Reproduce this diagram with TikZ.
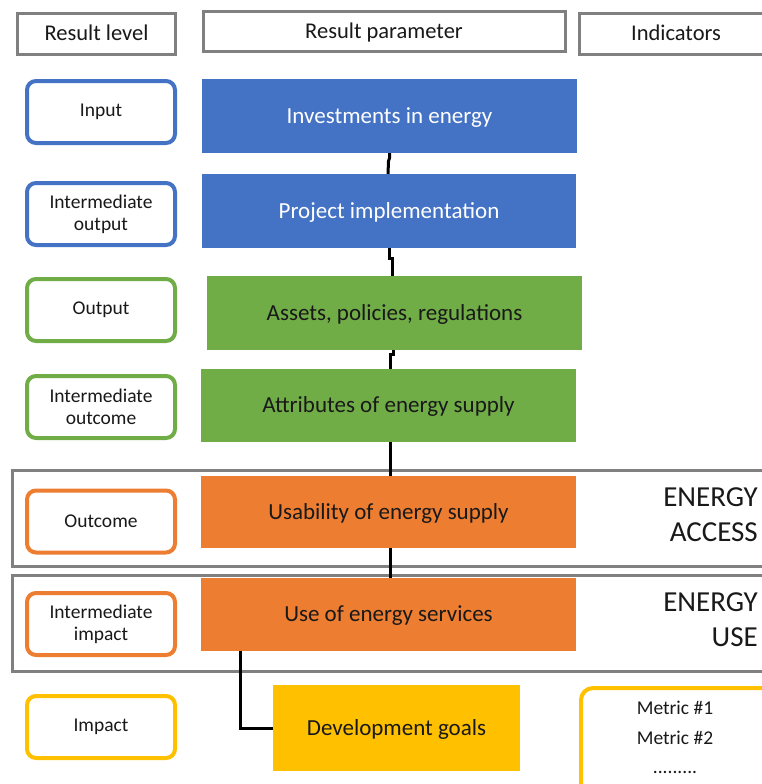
\documentclass[tikz,border=0pt]{standalone}
\usepackage{fontspec}
\setmainfont{Carlito}
\definecolor{cblue}{HTML}{4472C4}
\definecolor{cgreen}{HTML}{70AD47}
\definecolor{corange}{HTML}{ED7D31}
\definecolor{cyellow}{HTML}{FFC000}
\definecolor{cgray}{HTML}{808080}
\begin{document}
\begin{tikzpicture}[x=1pt,y=-1pt,
  hdr/.style={draw=cgray,line width=3pt,fill=white,inner sep=0pt,font=\fontsize{22.5}{26}\selectfont,text=black!90,text height=14pt,text depth=0pt},
  lvl/.style={draw=#1,line width=4pt,rounded corners=9pt,fill=white,minimum width=148pt,minimum height=62pt,inner sep=0pt,align=center,font=\fontsize{19.5}{22}\selectfont,text=black!90},
  par/.style={fill=#1,minimum width=375pt,minimum height=74pt,inner sep=0pt,font=\fontsize{23}{26}\selectfont,text=black!90,text height=14pt,text depth=0pt},
  frame/.style={draw=cgray,line width=3pt},
  conn/.style={draw=black,line width=3pt},
  big/.style={anchor=east,align=right,inner sep=0pt,font=\fontsize{29}{35}\selectfont,text=black!90},
  met/.style={font=\fontsize{19.5}{22}\selectfont,text=black!90}]
\useasboundingbox (0,0) rectangle (762,784);
\clip (0,0) rectangle (762,784);
% headers
\node[hdr,minimum width=158pt,minimum height=41pt] (h1) at (96.5,34) {Result level};
\node[hdr,minimum width=362pt,minimum height=40pt] (h2) at (384,32) {Result parameter};
\node[hdr,minimum width=194pt,minimum height=41pt] (h3) at (676,34) {Indicators};
% frames
\node[frame,minimum width=765pt,minimum height=96pt,inner sep=0pt] (fa) at (394.5,518) {};
\node[frame,minimum width=765pt,minimum height=96pt,inner sep=0pt] (fu) at (394.5,623) {};
\node[big] (ea) at (758,515) {ENERGY\\ACCESS};
\node[big] (eu) at (758,620) {ENERGY\\USE};
% levels
\node[lvl=cblue] (l1) at (101,112) {Input};
\node[lvl=cblue] (l2) at (101,214) {Intermediate\\output};
\node[lvl=cgreen] (l3) at (101,310) {Output};
\node[lvl=cgreen] (l4) at (101,407) {Intermediate\\outcome};
\node[lvl=corange] (l5) at (101,521.5) {Outcome};
\node[lvl=corange] (l6) at (101,624) {Intermediate\\impact};
\node[lvl=cyellow] (l7) at (101,727) {Impact};
% parameters
\node[par=cblue,text=white] (inv) at (389.5,116) {Investments in energy};
\node[par=cblue,text=white,minimum width=374pt] (proj) at (389,211) {Project implementation};
\node[par=cgreen] (ass) at (394.5,313) {Assets, policies, regulations};
\node[par=cgreen,minimum height=73pt] (att) at (388.5,405.5) {Attributes of energy supply};
\node[par=corange,minimum height=72pt] (usa) at (388.5,512) {Usability of energy supply};
\node[par=corange,minimum height=73pt] (use) at (388.5,614.5) {Use of energy services};
\node[par=cyellow,minimum width=247pt,minimum height=86pt] (dev) at (396.5,728) {Development goals};
% metrics
\node[draw=cyellow,line width=4pt,rounded corners=12pt,fill=white,minimum width=192pt,minimum height=110pt] (met) at (677,743) {};
\node[met] (m1) at (675,708) {Metric \#1};
\node[met] (m2) at (675,738) {Metric \#2};
\node[met] (m3) at (675,772) {.........};
% connectors
\draw[conn] (inv.south) -- ++(0,5) -- ++(-1,3) -- ([xshift=-1pt]proj.north);
\draw[conn] (proj.south) -- ++(0,10) -| ([xshift=-2pt]ass.north);
\draw[conn] ([xshift=-1.5pt]ass.south) -- ++(0,4) -| ([xshift=1.5pt]att.north);
\draw[conn] ([xshift=1.5pt]att.south) -- ([xshift=1.5pt]usa.north);
\draw[conn] ([xshift=1.5pt]usa.south) -- ([xshift=1.5pt]use.north);
\coordinate (u1) at (240,651);
\draw[conn] (u1) |- (dev.west);
\end{tikzpicture}
\end{document}
